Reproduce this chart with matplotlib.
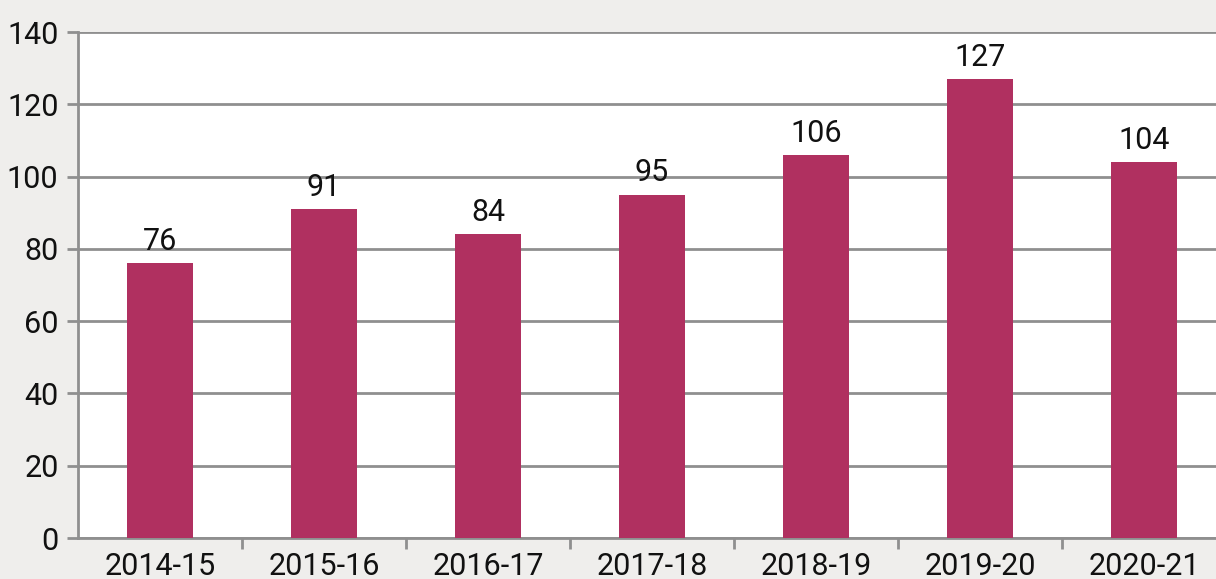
import matplotlib
matplotlib.use("Agg")
import matplotlib.pyplot as plt
import numpy as np

years = ["2014-15", "2015-16", "2016-17", "2017-18", "2018-19", "2019-20", "2020-21"]
counts = [76, 91, 84, 95, 106, 127, 104]
yticks = [0, 20, 40, 60, 80, 100, 120, 140]

plt.rcParams["font.family"] = ["Roboto", "DejaVu Sans"]

fig = plt.figure(figsize=(12.16, 5.79), dpi=100)
fig.patch.set_facecolor("#efeeec")
ax = fig.add_axes([78 / 1216, 41 / 579, 1148 / 1216, 506 / 579])
ax.set_facecolor("white")

x = np.arange(len(years))
ax.bar(x, counts, width=0.4, color="#b03060", zorder=3)
for xi, v in zip(x, counts):
    ax.text(xi, v + 2, str(v), ha="center", va="bottom", fontsize=22, color="#111111")

ax.set_xlim(-0.5, len(years) - 0.5)
ax.set_ylim(0, 140)
ax.set_yticks(yticks)
ax.set_xticks(x)
ax.set_xticklabels(years)
ax.set_xticks(np.arange(len(years)) + 0.5, minor=True)

ax.yaxis.grid(True, color="#8f8f8f", linewidth=2, zorder=1)
for s in ["top", "right"]:
    ax.spines[s].set_visible(False)
for s in ["left", "bottom"]:
    ax.spines[s].set_color("#8f8f8f")
    ax.spines[s].set_linewidth(2)

ax.tick_params(axis="y", length=8, width=2, color="#8f8f8f", labelsize=22, labelcolor="#111111", pad=6)
ax.tick_params(axis="x", which="major", length=0, labelsize=22, labelcolor="#111111", pad=10)
ax.tick_params(axis="x", which="minor", length=8, width=2, color="#8f8f8f")

fig.savefig("out.png", dpi=100, facecolor=fig.get_facecolor())
